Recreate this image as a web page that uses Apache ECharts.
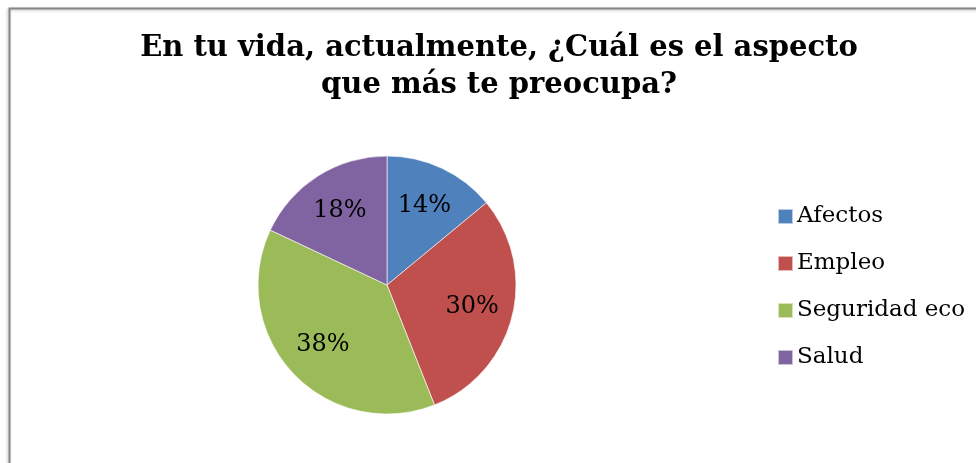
<!DOCTYPE html>
<html>
<head>
<meta charset="utf-8">
<script src="https://cdn.jsdelivr.net/npm/echarts@6/dist/echarts.min.js"></script>
<style>
html,body{margin:0;padding:0;background:#fff;}
#main{width:976px;height:463px;}
</style>
</head>
<body>
<div id="main"></div>
<script>
var categories = ['Afectos', 'Empleo', 'Seguridad eco', 'Salud'];
var values = [14, 30, 38, 18];
var colors = ['#4F81BD', '#C0504D', '#9BBB59', '#8064A2'];

var pieData = [];
for (var i = 0; i < categories.length; i++) {
    pieData.push({value: values[i], name: categories[i]});
}

var serif = '"DejaVu Serif", "Liberation Serif", serif';
var center = [387, 285];

var option = {
    animation: false,
    color: colors,
    title: {
        text: 'En tu vida, actualmente, ¿Cuál es el aspecto\nque más te preocupa?',
        left: 499,
        textAlign: 'center',
        top: 30,
        padding: 0,
        textStyle: {
            fontFamily: serif,
            fontWeight: 'bold',
            fontSize: 29,
            lineHeight: 37,
            color: '#000'
        }
    },
    legend: {
        orient: 'vertical',
        left: 777,
        top: 205,
        padding: 0,
        icon: 'rect',
        itemWidth: 15,
        itemHeight: 15,
        itemGap: 24,
        textStyle: {
            fontFamily: serif,
            fontSize: 23,
            lineHeight: 22,
            color: '#000',
            padding: [0, 0, 0, -1]
        },
        data: categories
    },
    graphic: [{
        type: 'rect',
        shape: {x: 9.5, y: 8.5, width: 1100, height: 1000},
        style: {fill: 'none', stroke: '#868686', lineWidth: 2,
            shadowColor: 'rgba(0,0,0,0.25)', shadowBlur: 3, shadowOffsetX: -1, shadowOffsetY: 1},
        silent: true
    }],
    series: [
        {
            name: 'main',
            type: 'pie',
            center: center,
            radius: [0, 129],
            startAngle: 90,
            clockwise: true,
            label: {show: false},
            labelLine: {show: false},
            itemStyle: {borderColor: 'rgba(255,255,255,0.6)', borderWidth: 1},
            emphasis: {disabled: true},
            data: pieData
        },
        {
            // transparent ring only used to place the percentage labels further out
            name: 'labels',
            type: 'pie',
            center: center,
            radius: [41, 129],
            startAngle: 90,
            clockwise: true,
            silent: true,
            itemStyle: {color: 'rgba(0,0,0,0)', borderWidth: 0},
            label: {
                show: true,
                position: 'inside',
                formatter: '{c}%',
                fontFamily: serif,
                fontSize: 24,
                color: '#000'
            },
            labelLine: {show: false},
            emphasis: {disabled: true},
            data: pieData
        }
    ]
};

var myChart = echarts.init(document.getElementById('main'));
myChart.setOption(option, true);
</script>
</body>
</html>
